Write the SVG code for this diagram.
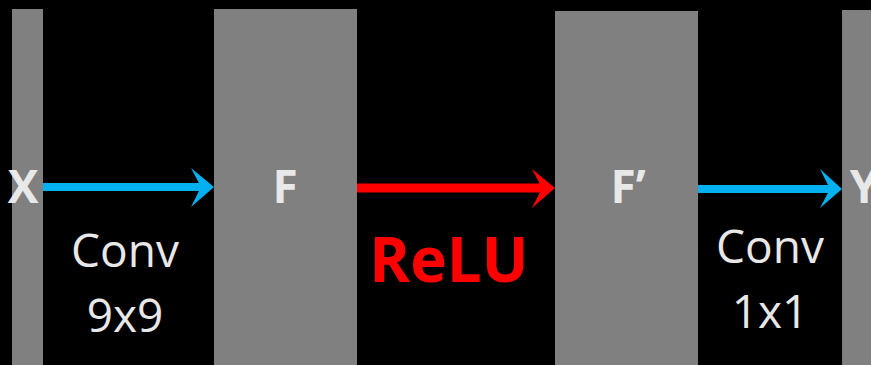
<svg xmlns="http://www.w3.org/2000/svg" width="871" height="365" viewBox="0 0 871 365">
<style>
.blk{fill:#808080}
.lbl{font-family:"Open Sans","Liberation Sans",sans-serif;font-weight:bold;font-size:46px;fill:#e8e8e8;text-anchor:middle}
.op{font-family:"Open Sans","Liberation Sans",sans-serif;font-size:46px;fill:#e8e8e8;text-anchor:middle}
.relu{font-family:"Open Sans","Liberation Sans",sans-serif;font-weight:bold;font-size:62px;fill:#ff0000;text-anchor:middle}
</style>
<rect width="871" height="365" fill="#000"/>
<g id="X"><rect class="blk" x="12" y="9" width="31" height="356"/><text class="lbl" x="23" y="203">X</text></g>
<g id="F"><rect class="blk" x="214" y="9" width="143" height="356"/><text class="lbl" x="285" y="203">F</text></g>
<g id="Fp"><rect class="blk" x="555" y="11" width="143" height="354"/><text class="lbl" x="628" y="203">F’</text></g>
<g id="Y"><rect class="blk" x="842" y="10" width="29" height="355"/><text class="lbl" x="864" y="203">Y</text></g>
<g id="connectors">
<line x1="43" y1="187" x2="204" y2="187" stroke="#00b0f0" stroke-width="8"/>
<polygon points="214,187 191,168 201,187 191,207" fill="#00b0f0"/>
<line x1="357" y1="188" x2="545" y2="188" stroke="#ff0000" stroke-width="9"/>
<polygon points="555,188 532,169 542,188 532,208" fill="#ff0000"/>
<line x1="698" y1="189" x2="832" y2="189" stroke="#00b0f0" stroke-width="8"/>
<polygon points="842,189 820,169 830,189 820,208" fill="#00b0f0"/>
</g>
<g id="labels">
<text class="op" x="125" y="267">Conv</text>
<text class="op" x="125" y="332">9x9</text>
<text class="relu" x="449" y="282">ReLU</text>
<text class="op" x="770" y="263">Conv</text>
<text class="op" x="770" y="328">1x1</text>
</g>
</svg>
